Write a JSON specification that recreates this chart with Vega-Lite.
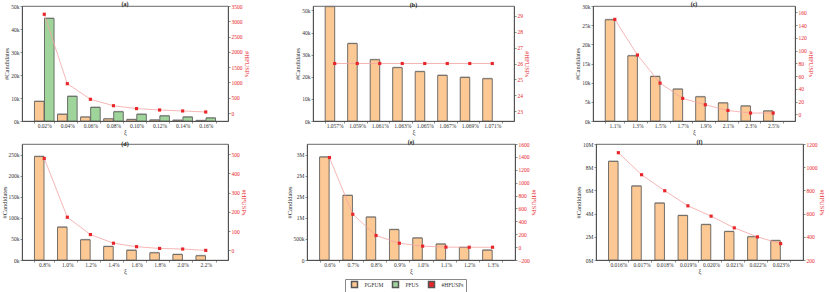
{
  "$schema": "https://vega.github.io/schema/vega-lite/v6.json",
  "padding": 0,
  "background": "white",
  "config": {
    "font": "Liberation Serif",
    "view": {"stroke": "#444", "strokeWidth": 0.8},
    "axis": {"labelFont": "Liberation Serif", "titleFont": "Liberation Serif", "labelFontSize": 5.5, "titleFontSize": 6.5, "titleFontWeight": "normal", "tickSize": 2, "tickColor": "#444", "domainColor": "#444", "labelColor": "#333", "titleColor": "#333", "grid": false, "labelPadding": 1, "titlePadding": 1, "domainWidth": 0.8, "tickWidth": 0.6},
    "axisX": {"labelAngle": 0, "tickBand": "extent", "titlePadding": 0, "labelPadding": 0},
    "title": {"font": "Liberation Serif", "fontSize": 6, "fontWeight": "bold", "offset": -2.5, "color": "#222"}
  },
  "datasets": {
    "bars": [
      {"p": "a", "xi": "0.02%", "s": "PGFUM", "v": 8500}, {"p": "a", "xi": "0.04%", "s": "PGFUM", "v": 2900}, {"p": "a", "xi": "0.06%", "s": "PGFUM", "v": 1700}, {"p": "a", "xi": "0.08%", "s": "PGFUM", "v": 900}, {"p": "a", "xi": "0.10%", "s": "PGFUM", "v": 600}, {"p": "a", "xi": "0.12%", "s": "PGFUM", "v": 400}, {"p": "a", "xi": "0.14%", "s": "PGFUM", "v": 300}, {"p": "a", "xi": "0.16%", "s": "PGFUM", "v": 150},
      {"p": "a", "xi": "0.02%", "s": "PFUS", "v": 44600}, {"p": "a", "xi": "0.04%", "s": "PFUS", "v": 10700}, {"p": "a", "xi": "0.06%", "s": "PFUS", "v": 5900}, {"p": "a", "xi": "0.08%", "s": "PFUS", "v": 4000}, {"p": "a", "xi": "0.10%", "s": "PFUS", "v": 2900}, {"p": "a", "xi": "0.12%", "s": "PFUS", "v": 2200}, {"p": "a", "xi": "0.14%", "s": "PFUS", "v": 1700}, {"p": "a", "xi": "0.16%", "s": "PFUS", "v": 1300},
      {"p": "b", "xi": "1.057%", "s": "PGFUM", "v": 51700}, {"p": "b", "xi": "1.059%", "s": "PGFUM", "v": 35000}, {"p": "b", "xi": "1.061%", "s": "PGFUM", "v": 27700}, {"p": "b", "xi": "1.063%", "s": "PGFUM", "v": 24100}, {"p": "b", "xi": "1.065%", "s": "PGFUM", "v": 22300}, {"p": "b", "xi": "1.067%", "s": "PGFUM", "v": 20600}, {"p": "b", "xi": "1.069%", "s": "PGFUM", "v": 19700}, {"p": "b", "xi": "1.071%", "s": "PGFUM", "v": 19100},
      {"p": "c", "xi": "1.1%", "s": "PGFUM", "v": 26400}, {"p": "c", "xi": "1.3%", "s": "PGFUM", "v": 17000}, {"p": "c", "xi": "1.5%", "s": "PGFUM", "v": 11600}, {"p": "c", "xi": "1.7%", "s": "PGFUM", "v": 8300}, {"p": "c", "xi": "1.9%", "s": "PGFUM", "v": 6300}, {"p": "c", "xi": "2.1%", "s": "PGFUM", "v": 4700}, {"p": "c", "xi": "2.3%", "s": "PGFUM", "v": 3900}, {"p": "c", "xi": "2.5%", "s": "PGFUM", "v": 2600},
      {"p": "d", "xi": "0.8%", "s": "PGFUM", "v": 246000}, {"p": "d", "xi": "1.0%", "s": "PGFUM", "v": 78000}, {"p": "d", "xi": "1.2%", "s": "PGFUM", "v": 48000}, {"p": "d", "xi": "1.4%", "s": "PGFUM", "v": 32000}, {"p": "d", "xi": "1.6%", "s": "PGFUM", "v": 23000}, {"p": "d", "xi": "1.8%", "s": "PGFUM", "v": 17000}, {"p": "d", "xi": "2.0%", "s": "PGFUM", "v": 13000}, {"p": "d", "xi": "2.2%", "s": "PGFUM", "v": 10000},
      {"p": "e", "xi": "0.6%", "s": "PGFUM", "v": 2440000}, {"p": "e", "xi": "0.7%", "s": "PGFUM", "v": 1530000}, {"p": "e", "xi": "0.8%", "s": "PGFUM", "v": 1016000}, {"p": "e", "xi": "0.9%", "s": "PGFUM", "v": 720000}, {"p": "e", "xi": "1.0%", "s": "PGFUM", "v": 520000}, {"p": "e", "xi": "1.1%", "s": "PGFUM", "v": 376000}, {"p": "e", "xi": "1.2%", "s": "PGFUM", "v": 296000}, {"p": "e", "xi": "1.3%", "s": "PGFUM", "v": 232000},
      {"p": "f", "xi": "0.016%", "s": "PGFUM", "v": 8500000}, {"p": "f", "xi": "0.017%", "s": "PGFUM", "v": 6370000}, {"p": "f", "xi": "0.018%", "s": "PGFUM", "v": 4900000}, {"p": "f", "xi": "0.019%", "s": "PGFUM", "v": 3830000}, {"p": "f", "xi": "0.020%", "s": "PGFUM", "v": 3050000}, {"p": "f", "xi": "0.021%", "s": "PGFUM", "v": 2450000}, {"p": "f", "xi": "0.022%", "s": "PGFUM", "v": 2000000}, {"p": "f", "xi": "0.023%", "s": "PGFUM", "v": 1670000}
    ],
    "hf": [
      {"p": "a", "xi": "0.02%", "s": "#HFUSPs", "v": 3230}, {"p": "a", "xi": "0.04%", "s": "#HFUSPs", "v": 960}, {"p": "a", "xi": "0.06%", "s": "#HFUSPs", "v": 450}, {"p": "a", "xi": "0.08%", "s": "#HFUSPs", "v": 240}, {"p": "a", "xi": "0.10%", "s": "#HFUSPs", "v": 145}, {"p": "a", "xi": "0.12%", "s": "#HFUSPs", "v": 100}, {"p": "a", "xi": "0.14%", "s": "#HFUSPs", "v": 68}, {"p": "a", "xi": "0.16%", "s": "#HFUSPs", "v": 35},
      {"p": "b", "xi": "1.057%", "s": "#HFUSPs", "v": 26}, {"p": "b", "xi": "1.059%", "s": "#HFUSPs", "v": 26}, {"p": "b", "xi": "1.061%", "s": "#HFUSPs", "v": 26}, {"p": "b", "xi": "1.063%", "s": "#HFUSPs", "v": 26}, {"p": "b", "xi": "1.065%", "s": "#HFUSPs", "v": 26}, {"p": "b", "xi": "1.067%", "s": "#HFUSPs", "v": 26}, {"p": "b", "xi": "1.069%", "s": "#HFUSPs", "v": 26}, {"p": "b", "xi": "1.071%", "s": "#HFUSPs", "v": 26},
      {"p": "c", "xi": "1.1%", "s": "#HFUSPs", "v": 149}, {"p": "c", "xi": "1.3%", "s": "#HFUSPs", "v": 93}, {"p": "c", "xi": "1.5%", "s": "#HFUSPs", "v": 49}, {"p": "c", "xi": "1.7%", "s": "#HFUSPs", "v": 25}, {"p": "c", "xi": "1.9%", "s": "#HFUSPs", "v": 15}, {"p": "c", "xi": "2.1%", "s": "#HFUSPs", "v": 6}, {"p": "c", "xi": "2.3%", "s": "#HFUSPs", "v": 2}, {"p": "c", "xi": "2.5%", "s": "#HFUSPs", "v": 2},
      {"p": "d", "xi": "0.8%", "s": "#HFUSPs", "v": 477}, {"p": "d", "xi": "1.0%", "s": "#HFUSPs", "v": 172}, {"p": "d", "xi": "1.2%", "s": "#HFUSPs", "v": 82}, {"p": "d", "xi": "1.4%", "s": "#HFUSPs", "v": 37}, {"p": "d", "xi": "1.6%", "s": "#HFUSPs", "v": 19}, {"p": "d", "xi": "1.8%", "s": "#HFUSPs", "v": 10}, {"p": "d", "xi": "2.0%", "s": "#HFUSPs", "v": 7}, {"p": "d", "xi": "2.2%", "s": "#HFUSPs", "v": 0},
      {"p": "e", "xi": "0.6%", "s": "#HFUSPs", "v": 1390}, {"p": "e", "xi": "0.7%", "s": "#HFUSPs", "v": 510}, {"p": "e", "xi": "0.8%", "s": "#HFUSPs", "v": 180}, {"p": "e", "xi": "0.9%", "s": "#HFUSPs", "v": 60}, {"p": "e", "xi": "1.0%", "s": "#HFUSPs", "v": 15}, {"p": "e", "xi": "1.1%", "s": "#HFUSPs", "v": 0}, {"p": "e", "xi": "1.2%", "s": "#HFUSPs", "v": -2}, {"p": "e", "xi": "1.3%", "s": "#HFUSPs", "v": -2},
      {"p": "f", "xi": "0.016%", "s": "#HFUSPs", "v": 1125}, {"p": "f", "xi": "0.017%", "s": "#HFUSPs", "v": 935}, {"p": "f", "xi": "0.018%", "s": "#HFUSPs", "v": 797}, {"p": "f", "xi": "0.019%", "s": "#HFUSPs", "v": 667}, {"p": "f", "xi": "0.020%", "s": "#HFUSPs", "v": 578}, {"p": "f", "xi": "0.021%", "s": "#HFUSPs", "v": 477}, {"p": "f", "xi": "0.022%", "s": "#HFUSPs", "v": 399}, {"p": "f", "xi": "0.023%", "s": "#HFUSPs", "v": 341}
    ]
  },
  "resolve": {"scale": {"color": "shared"}, "legend": {"color": "shared"}},
  "spacing": 2,
  "vconcat": [
    {
      "spacing": 44,
      "hconcat": [
        {
          "title": "(a)", "width": 206, "height": 115,
          "resolve": {"scale": {"y": "independent"}},
          "layer": [
            {"data": {"name": "bars"}, "transform": [{"filter": "datum.p === 'a'"}],
             "mark": {"type": "bar", "fill": "#b8b8b8", "xOffset": 1.5, "yOffset": -1},
             "encoding": {"x": {"field": "xi", "type": "ordinal", "sort": null, "title": "ξ", "scale": {"domain": ["0.02%","0.04%","0.06%","0.08%","0.10%","0.12%","0.14%","0.16%"], "paddingInner": 0.15, "paddingOuter": 0.54}},
               "xOffset": {"field": "s", "scale": {"domain": ["PGFUM","PFUS"], "paddingInner": 0.05}},
               "y": {"field": "v", "type": "quantitative", "scale": {"domain": [0, 50000], "nice": false}, "axis": null}}},
            {"data": {"name": "bars"}, "transform": [{"filter": "datum.p === 'a'"}],
             "mark": {"type": "bar", "stroke": "#555", "strokeWidth": 0.8},
             "encoding": {"x": {"field": "xi", "type": "ordinal", "sort": null, "title": "ξ"},
               "xOffset": {"field": "s", "scale": {"domain": ["PGFUM","PFUS"], "paddingInner": 0.05}},
               "y": {"field": "v", "type": "quantitative", "scale": {"domain": [0, 50000], "nice": false}, "axis": {"title": "#Candidates", "values": [0,10000,20000,30000,40000,50000], "format": "~s"}},
               "color": {"field": "s", "type": "nominal", "scale": {"domain": ["PGFUM","PFUS","#HFUSPs"], "range": ["#FCC894","#9FD49B","#E8262A"]},
                 "legend": {"orient": "none", "legendX": 323, "legendY": 273, "direction": "horizontal", "title": null, "labelFont": "Liberation Serif", "labelFontSize": 5.5, "labelColor": "#333", "symbolSize": 36, "symbolOffset": 4, "labelOffset": 6, "strokeColor": "#888", "padding": 1.5, "columnPadding": 4,
                   "encode": {"symbols": {"update": {"shape": {"signal": "datum.value === '#HFUSPs' ? 'M-2.3,0L2.3,0M-0.5,-0.5L0.5,-0.5L0.5,0.5L-0.5,0.5Z' : 'M-2.3,-0.8L2.3,-0.8L2.3,0.8L-2.3,0.8Z'"}, "fill": {"signal": "datum.value === 'PGFUM' ? '#FCC894' : datum.value === 'PFUS' ? '#9FD49B' : '#E8262A'"}, "stroke": {"signal": "datum.value === '#HFUSPs' ? '#E8262A' : '#555'"}, "strokeWidth": {"value": 0.8}, "opacity": {"value": 1}}}}}}}},
            {"data": {"name": "hf"}, "transform": [{"filter": "datum.p === 'a'"}],
             "mark": {"type": "line", "color": "#F5A3A3", "strokeWidth": 0.8},
             "encoding": {"x": {"field": "xi", "type": "ordinal", "sort": null, "title": "ξ"},
               "y": {"field": "v", "type": "quantitative", "scale": {"domain": [-260, 3500], "nice": false, "zero": false}, "axis": {"orient": "right", "title": "#HFUSPs", "values": [0,500,1000,1500,2000,2500,3000,3500], "format": "d", "labelColor": "#E8262A", "titleColor": "#E8262A"}}}},
            {"data": {"name": "hf"}, "transform": [{"filter": "datum.p === 'a'"}],
             "mark": {"type": "square", "size": 10, "opacity": 1},
             "encoding": {"x": {"field": "xi", "type": "ordinal", "sort": null, "title": "ξ"},
               "y": {"field": "v", "type": "quantitative", "scale": {"domain": [-260, 3500], "nice": false, "zero": false}, "axis": null},
               "color": {"field": "s", "type": "nominal"}}}
          ]
        },
        {
          "title": "(b)", "width": 201, "height": 115,
          "resolve": {"scale": {"y": "independent"}},
          "layer": [
            {"data": {"name": "bars"}, "transform": [{"filter": "datum.p === 'b'"}],
             "mark": {"type": "bar", "fill": "#b8b8b8", "xOffset": 1.5, "yOffset": -1},
             "encoding": {"x": {"field": "xi", "type": "ordinal", "sort": null, "title": "ξ", "scale": {"domain": ["1.057%","1.059%","1.061%","1.063%","1.065%","1.067%","1.069%","1.071%"], "paddingInner": 0.15, "paddingOuter": 0.54}},
               "xOffset": {"field": "s", "scale": {"domain": ["PGFUM","PFUS"], "paddingInner": 0.05}},
               "y": {"field": "v", "type": "quantitative", "scale": {"domain": [0, 52000], "nice": false}, "axis": null}}},
            {"data": {"name": "bars"}, "transform": [{"filter": "datum.p === 'b'"}],
             "mark": {"type": "bar", "stroke": "#555", "strokeWidth": 0.8},
             "encoding": {"x": {"field": "xi", "type": "ordinal", "sort": null, "title": "ξ"},
               "xOffset": {"field": "s", "scale": {"domain": ["PGFUM","PFUS"], "paddingInner": 0.05}},
               "y": {"field": "v", "type": "quantitative", "scale": {"domain": [0, 52000], "nice": false}, "axis": {"title": "#Candidates", "values": [0,10000,20000,30000,40000,50000], "format": "~s"}},
               "color": {"field": "s", "type": "nominal"}}},
            {"data": {"name": "hf"}, "transform": [{"filter": "datum.p === 'b'"}],
             "mark": {"type": "line", "color": "#F5A3A3", "strokeWidth": 0.8},
             "encoding": {"x": {"field": "xi", "type": "ordinal", "sort": null, "title": "ξ"},
               "y": {"field": "v", "type": "quantitative", "scale": {"domain": [22.4, 29.6], "nice": false, "zero": false}, "axis": {"orient": "right", "title": "#HFUSPs", "values": [23,24,25,26,27,28,29], "format": "d", "labelColor": "#E8262A", "titleColor": "#E8262A"}}}},
            {"data": {"name": "hf"}, "transform": [{"filter": "datum.p === 'b'"}],
             "mark": {"type": "square", "size": 10, "opacity": 1},
             "encoding": {"x": {"field": "xi", "type": "ordinal", "sort": null, "title": "ξ"},
               "y": {"field": "v", "type": "quantitative", "scale": {"domain": [22.4, 29.6], "nice": false, "zero": false}, "axis": null},
               "color": {"field": "s", "type": "nominal"}}}
          ]
        },
        {
          "title": "(c)", "width": 202, "height": 115,
          "resolve": {"scale": {"y": "independent"}},
          "layer": [
            {"data": {"name": "bars"}, "transform": [{"filter": "datum.p === 'c'"}],
             "mark": {"type": "bar", "fill": "#b8b8b8", "xOffset": 1.5, "yOffset": -1},
             "encoding": {"x": {"field": "xi", "type": "ordinal", "sort": null, "title": "ξ", "scale": {"domain": ["1.1%","1.3%","1.5%","1.7%","1.9%","2.1%","2.3%","2.5%"], "paddingInner": 0.15, "paddingOuter": 0.54}},
               "xOffset": {"field": "s", "scale": {"domain": ["PGFUM","PFUS"], "paddingInner": 0.05}},
               "y": {"field": "v", "type": "quantitative", "scale": {"domain": [0, 30000], "nice": false}, "axis": null}}},
            {"data": {"name": "bars"}, "transform": [{"filter": "datum.p === 'c'"}],
             "mark": {"type": "bar", "stroke": "#555", "strokeWidth": 0.8},
             "encoding": {"x": {"field": "xi", "type": "ordinal", "sort": null, "title": "ξ"},
               "xOffset": {"field": "s", "scale": {"domain": ["PGFUM","PFUS"], "paddingInner": 0.05}},
               "y": {"field": "v", "type": "quantitative", "scale": {"domain": [0, 30000], "nice": false}, "axis": {"title": "#Candidates", "values": [0,5000,10000,15000,20000,25000,30000], "format": "~s"}},
               "color": {"field": "s", "type": "nominal"}}},
            {"data": {"name": "hf"}, "transform": [{"filter": "datum.p === 'c'"}],
             "mark": {"type": "line", "color": "#F5A3A3", "strokeWidth": 0.8},
             "encoding": {"x": {"field": "xi", "type": "ordinal", "sort": null, "title": "ξ"},
               "y": {"field": "v", "type": "quantitative", "scale": {"domain": [-10.5, 170], "nice": false, "zero": false}, "axis": {"orient": "right", "title": "#HFUSPs", "values": [0,20,40,60,80,100,120,140,160], "format": "d", "labelColor": "#E8262A", "titleColor": "#E8262A"}}}},
            {"data": {"name": "hf"}, "transform": [{"filter": "datum.p === 'c'"}],
             "mark": {"type": "square", "size": 10, "opacity": 1},
             "encoding": {"x": {"field": "xi", "type": "ordinal", "sort": null, "title": "ξ"},
               "y": {"field": "v", "type": "quantitative", "scale": {"domain": [-10.5, 170], "nice": false, "zero": false}, "axis": null},
               "color": {"field": "s", "type": "nominal"}}}
          ]
        }
      ]
    },
    {
      "spacing": 38,
      "hconcat": [
        {
          "title": "(d)", "width": 206, "height": 116,
          "resolve": {"scale": {"y": "independent"}},
          "layer": [
            {"data": {"name": "bars"}, "transform": [{"filter": "datum.p === 'd'"}],
             "mark": {"type": "bar", "fill": "#b8b8b8", "xOffset": 1.5, "yOffset": -1},
             "encoding": {"x": {"field": "xi", "type": "ordinal", "sort": null, "title": "ξ", "scale": {"domain": ["0.8%","1.0%","1.2%","1.4%","1.6%","1.8%","2.0%","2.2%"], "paddingInner": 0.15, "paddingOuter": 0.54}},
               "xOffset": {"field": "s", "scale": {"domain": ["PGFUM","PFUS"], "paddingInner": 0.05}},
               "y": {"field": "v", "type": "quantitative", "scale": {"domain": [0, 276000], "nice": false}, "axis": null}}},
            {"data": {"name": "bars"}, "transform": [{"filter": "datum.p === 'd'"}],
             "mark": {"type": "bar", "stroke": "#555", "strokeWidth": 0.8},
             "encoding": {"x": {"field": "xi", "type": "ordinal", "sort": null, "title": "ξ"},
               "xOffset": {"field": "s", "scale": {"domain": ["PGFUM","PFUS"], "paddingInner": 0.05}},
               "y": {"field": "v", "type": "quantitative", "scale": {"domain": [0, 276000], "nice": false}, "axis": {"title": "#Candidates", "values": [0,50000,100000,150000,200000,250000], "format": "~s"}},
               "color": {"field": "s", "type": "nominal"}}},
            {"data": {"name": "hf"}, "transform": [{"filter": "datum.p === 'd'"}],
             "mark": {"type": "line", "color": "#F5A3A3", "strokeWidth": 0.8},
             "encoding": {"x": {"field": "xi", "type": "ordinal", "sort": null, "title": "ξ"},
               "y": {"field": "v", "type": "quantitative", "scale": {"domain": [-50, 552], "nice": false, "zero": false}, "axis": {"orient": "right", "title": "#HFUSPs", "values": [0,100,200,300,400,500], "format": "d", "labelColor": "#E8262A", "titleColor": "#E8262A"}}}},
            {"data": {"name": "hf"}, "transform": [{"filter": "datum.p === 'd'"}],
             "mark": {"type": "square", "size": 10, "opacity": 1},
             "encoding": {"x": {"field": "xi", "type": "ordinal", "sort": null, "title": "ξ"},
               "y": {"field": "v", "type": "quantitative", "scale": {"domain": [-50, 552], "nice": false, "zero": false}, "axis": null},
               "color": {"field": "s", "type": "nominal"}}}
          ]
        },
        {
          "title": "(e)", "width": 208, "height": 116,
          "resolve": {"scale": {"y": "independent"}},
          "layer": [
            {"data": {"name": "bars"}, "transform": [{"filter": "datum.p === 'e'"}],
             "mark": {"type": "bar", "fill": "#b8b8b8", "xOffset": 1.5, "yOffset": -1},
             "encoding": {"x": {"field": "xi", "type": "ordinal", "sort": null, "title": "ξ", "scale": {"domain": ["0.6%","0.7%","0.8%","0.9%","1.0%","1.1%","1.2%","1.3%"], "paddingInner": 0.15, "paddingOuter": 0.54}},
               "xOffset": {"field": "s", "scale": {"domain": ["PGFUM","PFUS"], "paddingInner": 0.05}},
               "y": {"field": "v", "type": "quantitative", "scale": {"domain": [0, 2750000], "nice": false}, "axis": null}}},
            {"data": {"name": "bars"}, "transform": [{"filter": "datum.p === 'e'"}],
             "mark": {"type": "bar", "stroke": "#555", "strokeWidth": 0.8},
             "encoding": {"x": {"field": "xi", "type": "ordinal", "sort": null, "title": "ξ"},
               "xOffset": {"field": "s", "scale": {"domain": ["PGFUM","PFUS"], "paddingInner": 0.05}},
               "y": {"field": "v", "type": "quantitative", "scale": {"domain": [0, 2750000], "nice": false}, "axis": {"title": "#Candidates", "values": [0,500000,1000000,1500000,2000000,2500000], "labelExpr": "datum.value == 0 ? '0' : datum.value < 1000000 ? format(datum.value / 1000, 'd') + 'k' : format(datum.value / 1000000, '.0f') + 'M'"}},
               "color": {"field": "s", "type": "nominal"}}},
            {"data": {"name": "hf"}, "transform": [{"filter": "datum.p === 'e'"}],
             "mark": {"type": "line", "color": "#F5A3A3", "strokeWidth": 0.8},
             "encoding": {"x": {"field": "xi", "type": "ordinal", "sort": null, "title": "ξ"},
               "y": {"field": "v", "type": "quantitative", "scale": {"domain": [-200, 1600], "nice": false, "zero": false}, "axis": {"orient": "right", "title": "#HFUSPs", "values": [-200,0,200,400,600,800,1000,1200,1400,1600], "format": "d", "labelColor": "#E8262A", "titleColor": "#E8262A"}}}},
            {"data": {"name": "hf"}, "transform": [{"filter": "datum.p === 'e'"}],
             "mark": {"type": "square", "size": 10, "opacity": 1},
             "encoding": {"x": {"field": "xi", "type": "ordinal", "sort": null, "title": "ξ"},
               "y": {"field": "v", "type": "quantitative", "scale": {"domain": [-200, 1600], "nice": false, "zero": false}, "axis": null},
               "color": {"field": "s", "type": "nominal"}}}
          ]
        },
        {
          "title": "(f)", "width": 207, "height": 116,
          "resolve": {"scale": {"y": "independent"}},
          "layer": [
            {"data": {"name": "bars"}, "transform": [{"filter": "datum.p === 'f'"}],
             "mark": {"type": "bar", "fill": "#b8b8b8", "xOffset": 1.5, "yOffset": -1},
             "encoding": {"x": {"field": "xi", "type": "ordinal", "sort": null, "title": "ξ", "scale": {"domain": ["0.016%","0.017%","0.018%","0.019%","0.020%","0.021%","0.022%","0.023%"], "paddingInner": 0.15, "paddingOuter": 0.54}},
               "xOffset": {"field": "s", "scale": {"domain": ["PGFUM","PFUS"], "paddingInner": 0.05}},
               "y": {"field": "v", "type": "quantitative", "scale": {"domain": [0, 10000000], "nice": false}, "axis": null}}},
            {"data": {"name": "bars"}, "transform": [{"filter": "datum.p === 'f'"}],
             "mark": {"type": "bar", "stroke": "#555", "strokeWidth": 0.8},
             "encoding": {"x": {"field": "xi", "type": "ordinal", "sort": null, "title": "ξ"},
               "xOffset": {"field": "s", "scale": {"domain": ["PGFUM","PFUS"], "paddingInner": 0.05}},
               "y": {"field": "v", "type": "quantitative", "scale": {"domain": [0, 10000000], "nice": false}, "axis": {"title": "#Candidates", "values": [0,2000000,4000000,6000000,8000000,10000000], "format": "~s"}},
               "color": {"field": "s", "type": "nominal"}}},
            {"data": {"name": "hf"}, "transform": [{"filter": "datum.p === 'f'"}],
             "mark": {"type": "line", "color": "#F5A3A3", "strokeWidth": 0.8},
             "encoding": {"x": {"field": "xi", "type": "ordinal", "sort": null, "title": "ξ"},
               "y": {"field": "v", "type": "quantitative", "scale": {"domain": [200, 1200], "nice": false, "zero": false}, "axis": {"orient": "right", "title": "#HFUSPs", "values": [200,400,600,800,1000,1200], "format": "d", "labelColor": "#E8262A", "titleColor": "#E8262A"}}}},
            {"data": {"name": "hf"}, "transform": [{"filter": "datum.p === 'f'"}],
             "mark": {"type": "square", "size": 10, "opacity": 1},
             "encoding": {"x": {"field": "xi", "type": "ordinal", "sort": null, "title": "ξ"},
               "y": {"field": "v", "type": "quantitative", "scale": {"domain": [200, 1200], "nice": false, "zero": false}, "axis": null},
               "color": {"field": "s", "type": "nominal"}}}
          ]
        }
      ]
    }
  ]
}
